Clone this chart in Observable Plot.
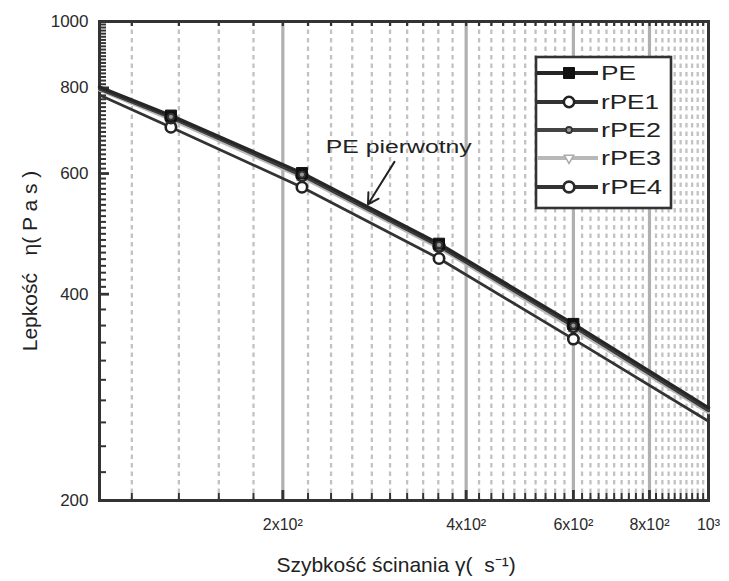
<!DOCTYPE html>
<html><head><meta charset="utf-8">
<script src="https://cdn.jsdelivr.net/npm/d3@7"></script>
<script src="https://cdn.jsdelivr.net/npm/@observablehq/plot@0.6"></script>
<style>
body{margin:0;background:#fff;}
#chart{width:729px;height:581px;}
</style></head><body><div id="chart"></div>
<script>
// ---- data ----
const shearRate = [100, 131, 215, 361, 600, 1000];
const hasMarker = [false, true, true, true, true, false];
const seriesNames = ["PE", "rPE1", "rPE2", "rPE3", "rPE4"];
const PE   = [802, 729, 601, 474, 362, 273];
const rPE1 = [781, 701, 573, 451, 344, 261];
const rPE2 = [799, 726, 598, 472, 360, 271.5];
const rPE3 = [794, 719, 592, 467, 356, 268.5];
const rPE4 = [797, 724, 596, 470, 359, 270.5];

const xMajorTicks = [200, 400, 600, 800, 1000];
const xTickLabels = ["2x10²", "4x10²", "6x10²", "8x10²", "10³"];
const xMinorEarly = [113, 135, 157, 179];
const yTicks = [200, 400, 600, 800, 1000];
const yTickLabels = ["200", "400", "600", "800", "1000"];

const annotText = ["PE pierwotny"];
const annotPos = [{x: 310, y: 655}];
const arrowPos = [{x1: 305, y1: 624, x2: 276, y2: 541}];

const xLabel = "Szybkość ścinania γ(  s⁻¹)";
const yLabel = "Lepkość   η( P a s )";

// ---- styles ----
const styles = {
  PE:   {stroke: "#262626", width: 3.4, symbol: "square", r: 6.2, fill: "#111", mstroke: "#111", msw: 1},
  rPE1: {stroke: "#333", width: 2.8, symbol: "circle", r: 5.2, fill: "#fff", mstroke: "#222", msw: 2.6},
  rPE2: {stroke: "#444", width: 3, symbol: "circle", r: 3, fill: "#999", mstroke: "#333", msw: 1.8},
  rPE3: {stroke: "#b8b8b8", width: 3, symbol: "triangle", r: 3.5, fill: "#fff", mstroke: "#aaa", msw: 1.5},
  rPE4: {stroke: "#333", width: 3, symbol: "circle", r: 5.4, fill: "none", mstroke: "#2a2a2a", msw: 2.8}
};

const values = {PE, rPE1, rPE2, rPE3, rPE4};
const rows = [];
seriesNames.forEach(s => shearRate.forEach((x, i) => rows.push({series: s, x, y: values[s][i], marker: hasMarker[i]})));

const xMinorGrid = xMinorEarly.concat(d3.range(220, 1000, 20).filter(v => !xMajorTicks.includes(v)));
const yMinorTicks = d3.range(220, 400, 20).concat(d3.range(410, 1000, 10)).filter(v => !yTicks.includes(v));

const lineOrder = ["rPE1", "rPE3", "rPE4", "rPE2", "PE"];
const markOrder = ["rPE3", "rPE1", "rPE4", "PE", "rPE2"];

const font = "'Liberation Sans', Arial, sans-serif";
const M = {left: 99, right: 21, top: 21, bottom: 81};

const plot = Plot.plot({
  width: 729, height: 581,
  marginLeft: M.left, marginRight: M.right, marginTop: M.top, marginBottom: M.bottom,
  style: {fontFamily: font, background: "#fff", color: "#2a2a2a"},
  x: {type: "log", domain: [100, 1000]},
  y: {type: "log", domain: [200, 1000]},
  marks: [
    Plot.ruleX(xMinorGrid, {stroke: "#c2c2c2", strokeWidth: 2.3, strokeDasharray: "4.5,4"}),
    Plot.ruleX(xMajorTicks.slice(0, 4), {stroke: "#b0b0b0", strokeWidth: 3.2}),
    // inside ticks: short rules clipped to the frame edge with insets
    Plot.tickY(yMinorTicks, {y: d => d, insetRight: 609 - 7, stroke: "#333", strokeWidth: 2}),
    Plot.tickY(yTicks, {y: d => d, insetRight: 609 - 10, stroke: "#333", strokeWidth: 2.8}),
    Plot.tickX(xMinorGrid, {x: d => d, insetTop: 479 - 7, stroke: "#333", strokeWidth: 2}),
    Plot.tickX(xMajorTicks, {x: d => d, insetTop: 479 - 10, stroke: "#333", strokeWidth: 2.8}),
    Plot.tickX(xMinorGrid.concat(xMajorTicks), {x: d => d, insetBottom: 479 - 5, stroke: "#333", strokeWidth: 2.2}),
    // tick labels
    Plot.axisX({ticks: xMajorTicks, tickSize: 0, tickPadding: 18, tickFormat: d => xTickLabels[xMajorTicks.indexOf(d)], fontSize: 16, fill: "#2a2a2a", label: null}),
    Plot.axisY({ticks: yTicks, tickSize: 0, tickPadding: 11, tickFormat: d => yTickLabels[yTicks.indexOf(d)], fontSize: 17, fill: "#2a2a2a", label: null}),
    Plot.frame({stroke: "#333", strokeWidth: 3}),
    // lines
    ...lineOrder.map(s => Plot.line(rows.filter(d => d.series === s), {x: "x", y: "y", stroke: styles[s].stroke, strokeWidth: styles[s].width})),
    // markers
    ...markOrder.map(s => Plot.dot(rows.filter(d => d.series === s && d.marker), {x: "x", y: "y", symbol: styles[s].symbol, r: styles[s].r, fill: styles[s].fill, stroke: styles[s].mstroke, strokeWidth: styles[s].msw})),
    // annotation
    Plot.arrow(arrowPos, {x1: "x1", y1: "y1", x2: "x2", y2: "y2", stroke: "#222", strokeWidth: 2, headLength: 9}),
    Plot.text(annotPos, {x: "x", y: "y", text: (d, i) => annotText[i], fontSize: 17.5, fill: "#222"}),
    // axis labels
    Plot.text([yLabel], {frameAnchor: "left", textAnchor: "middle", lineAnchor: "middle", dx: -69, rotate: -90, text: d => d, fontSize: 21, fill: "#222"}),
    Plot.text([xLabel], {frameAnchor: "bottom", textAnchor: "middle", lineAnchor: "middle", dx: -8, dy: 65, text: d => d, fontSize: 21, fill: "#222"})
  ]
});

document.getElementById("chart").appendChild(plot);
const svg = d3.select(plot);

// stretch annotation text horizontally like the reference
svg.selectAll("text").filter(function() { return this.textContent === annotText[0]; })
  .attr("textLength", 146).attr("lengthAdjust", "spacingAndGlyphs");

// ---- legend (inside plot frame, top right) ----
const lg = svg.append("g").attr("font-family", font).attr("text-anchor", "start");
const box = {x: 536, y: 57, w: 135, h: 151};
lg.append("rect").attr("x", box.x).attr("y", box.y).attr("width", box.w).attr("height", box.h)
  .attr("fill", "#fff").attr("stroke", "#333").attr("stroke-width", 2.6);
const rowY = [73, 102, 130, 158, 187];
const textW = [35, 58, 60, 60, 61];
const symGen = {
  square: d3.symbol(d3.symbolSquare), circle: d3.symbol(d3.symbolCircle), triangle: d3.symbol(d3.symbolTriangle)
};
seriesNames.forEach((s, i) => {
  const st = styles[s];
  const y = rowY[i];
  lg.append("line").attr("x1", box.x + 1).attr("x2", 598).attr("y1", y).attr("y2", y)
    .attr("stroke", st.stroke).attr("stroke-width", 4);
  const size = Math.PI * st.r * st.r;
  lg.append("path").attr("d", symGen[st.symbol].size(size)())
    .attr("transform", `translate(569,${y})` + (st.symbol === "triangle" ? " rotate(180)" : ""))
    .attr("fill", st.fill === "none" ? "#fff" : st.fill).attr("stroke", st.mstroke).attr("stroke-width", st.msw);
  lg.append("text").attr("x", 601).attr("y", y + 7).attr("font-size", 20).attr("fill", "#222")
    .attr("text-anchor", "start")
    .attr("textLength", textW[i]).attr("lengthAdjust", "spacingAndGlyphs").text(s);
});
</script></body></html>
